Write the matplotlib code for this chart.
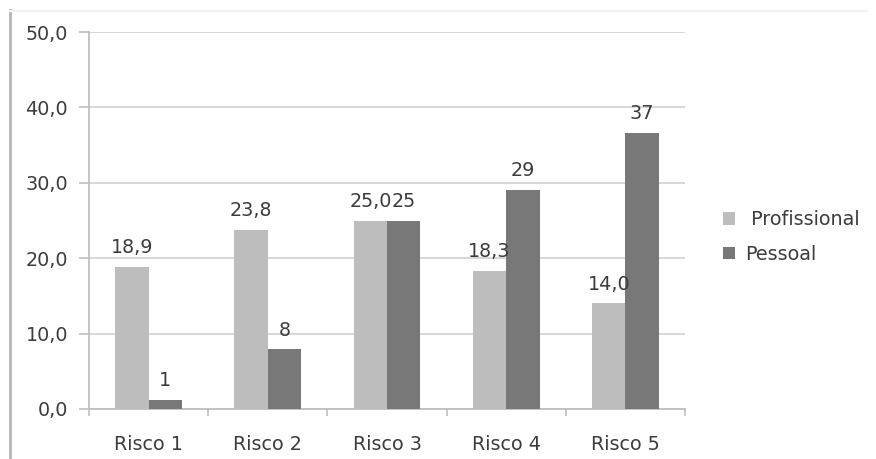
import matplotlib
matplotlib.use("Agg")
import matplotlib.pyplot as plt
from matplotlib.lines import Line2D
from matplotlib.patches import Patch
import numpy as np

categories = ["Risco 1", "Risco 2", "Risco 3", "Risco 4", "Risco 5"]
profissional = [18.9, 23.8, 25.0, 18.3, 14.0]
pessoal = [1.2, 7.9, 25.0, 29.1, 36.6]
series_names = ["Profissional", "Pessoal"]
y_ticks = [0, 10, 20, 30, 40, 50]

c_prof = "#BDBDBD"
c_pess = "#787878"
c_grid = "#D4D4D4"
c_axis = "#BFBFBF"
c_text = "#3C3C3C"
fs = 13.8

plt.rcParams["font.family"] = ["DejaVu Sans"]

fig = plt.figure(figsize=(8.76, 4.59), dpi=100)
ax = fig.add_axes([0.1016, 0.109, 0.6804, 0.821])

x = np.arange(len(categories))
w = 0.28
b1 = ax.bar(x - w / 2, profissional, w, color=c_prof, zorder=3)
b2 = ax.bar(x + w / 2, pessoal, w, color=c_pess, zorder=3)

for rect, v in zip(b1, profissional):
    ax.annotate(f"{v:.1f}".replace(".", ","),
                (rect.get_x() + rect.get_width() / 2, rect.get_height()),
                xytext=(0, 7), textcoords="offset points",
                ha="center", va="bottom", fontsize=fs, color=c_text, zorder=4)
for rect, v in zip(b2, pessoal):
    ax.annotate(f"{v:.0f}",
                (rect.get_x() + rect.get_width() / 2, rect.get_height()),
                xytext=(0, 7), textcoords="offset points",
                ha="center", va="bottom", fontsize=fs, color=c_text, zorder=4)

ax.set_xlim(-0.5, len(categories) - 0.5)
ax.set_ylim(0, 50)
ax.set_yticks(y_ticks)
ax.set_yticklabels([f"{t:.1f}".replace(".", ",") for t in y_ticks])
ax.yaxis.grid(True, color=c_grid, linewidth=1.3, zorder=0)

ax.set_xticks(x)
ax.set_xticklabels(categories)
ax.set_xticks(np.arange(-0.5, len(categories)), minor=True)
ax.tick_params(axis="x", which="major", length=0, pad=19, labelsize=fs, labelcolor=c_text)
ax.tick_params(axis="x", which="minor", length=5, color=c_axis, width=1.2)
ax.tick_params(axis="y", length=7, color=c_axis, width=1.2, pad=8,
               labelsize=fs, labelcolor=c_text)

for s in ["top", "right"]:
    ax.spines[s].set_visible(False)
for s in ["left", "bottom"]:
    ax.spines[s].set_color(c_axis)
    ax.spines[s].set_linewidth(1.3)

handles = [Patch(facecolor=c_prof), Patch(facecolor=c_pess)]
leg = fig.legend(handles, [" " + series_names[0], series_names[1]], loc="center left",
                 bbox_to_anchor=(0.8253, 0.4837), frameon=False, borderpad=0,
                 borderaxespad=0, fontsize=fs, handlelength=0.65, handleheight=0.65,
                 handletextpad=0.5, labelspacing=0.8, labelcolor=c_text)

# chart frame edges
fig.add_artist(Line2D([0.0115, 0.0115], [0.0, 0.978], transform=fig.transFigure,
                      color="#B5B5B5", linewidth=2))
fig.add_artist(Line2D([0.0115, 0.99], [0.977, 0.977], transform=fig.transFigure,
                      color="#F2F2F2", linewidth=1.5))

fig.savefig("out.png", dpi=100, facecolor="white")
